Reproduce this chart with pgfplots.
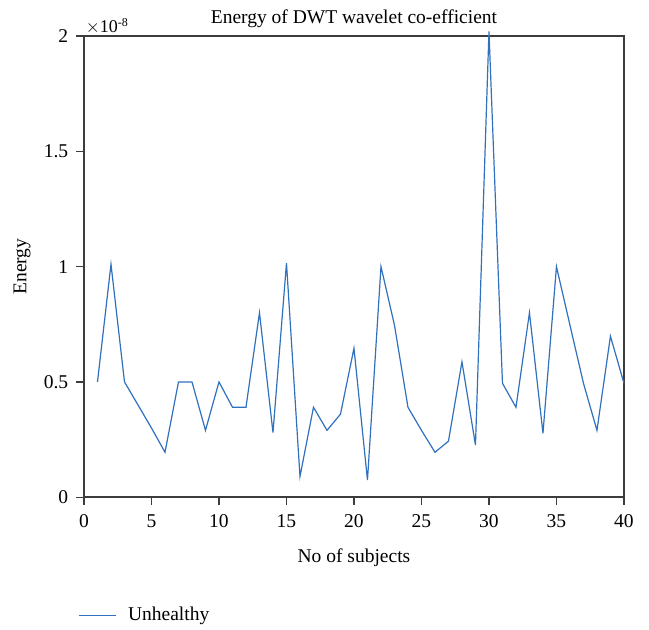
\documentclass[border=0pt]{standalone}
\usepackage{pgfplots}
\pgfplotsset{compat=1.18}
\usepackage{fontspec}
\setmainfont{Liberation Serif}
\definecolor{lineblue}{RGB}{48,112,190}
\definecolor{axgray}{RGB}{60,60,60}
\begin{document}
\begin{tikzpicture}
\begin{axis}[
  scale only axis,
  width=360pt, height=307.5pt,
  xmin=0, xmax=40, ymin=0, ymax=2,
  xtick={0,5,...,40},
  ytick={0,0.5,1,1.5,2},
  yticklabels={0,0.5,1,1.5,2},
  tick align=outside,
  xtick pos=bottom, ytick pos=left,
  major tick length=5pt,
  axis line style={axgray, line width=1pt},
  every tick/.style={axgray, line width=0.9pt},
  /pgf/number format/assume math mode=true,
  tick label style={font=\fontsize{13}{15}\selectfont},
  xticklabel style={yshift=-3pt},
  yticklabel style={xshift=-2pt},
  label style={font=\fontsize{13}{15}\selectfont},
  title style={font=\fontsize{13}{15}\selectfont, yshift=-4pt},
  title={Energy of DWT wavelet co-efficient},
  xlabel={No of subjects},
  ylabel={Energy},
  xlabel style={yshift=-7pt},
  ylabel style={yshift=2pt},
  legend style={draw=none, at={(-0.02,-0.256)}, anchor=west, font=\fontsize{13}{15}\selectfont},
  legend image code/.code={\draw[#1] (0pt,0pt) -- (25pt,0pt); \path[draw=none] (0pt,0pt) -- (31pt,0pt);},
  legend cell align=left,
  clip=false,
]
\addplot[lineblue, line width=0.8pt] coordinates {
(1,0.5) (2,1.01) (3,0.5) (4,0.4) (5,0.3) (6,0.195) (7,0.5) (8,0.5) (9,0.29) (10,0.5)
(11,0.39) (12,0.39) (13,0.80) (14,0.28) (15,1.015) (16,0.09) (17,0.39) (18,0.29) (19,0.36) (20,0.646)
(21,0.074) (22,1.0) (23,0.746) (24,0.39) (25,0.29) (26,0.195) (27,0.243) (28,0.587) (29,0.226) (30,2.02)
(31,0.494) (32,0.39) (33,0.80) (34,0.277) (35,1.0) (36,0.746) (37,0.494) (38,0.29) (39,0.698) (40,0.494)
};
\addlegendentry{Unhealthy}
\node[anchor=south west, inner sep=1pt, font=\fontsize{12}{14}\selectfont] at (rel axis cs:0,1) {$\times$10\textsuperscript{-8}};
\end{axis}
\path (current axis.south west) ++(-56pt,-88pt) rectangle ([shift={(16.7pt,24pt)}]current axis.north east);
\end{tikzpicture}
\end{document}
